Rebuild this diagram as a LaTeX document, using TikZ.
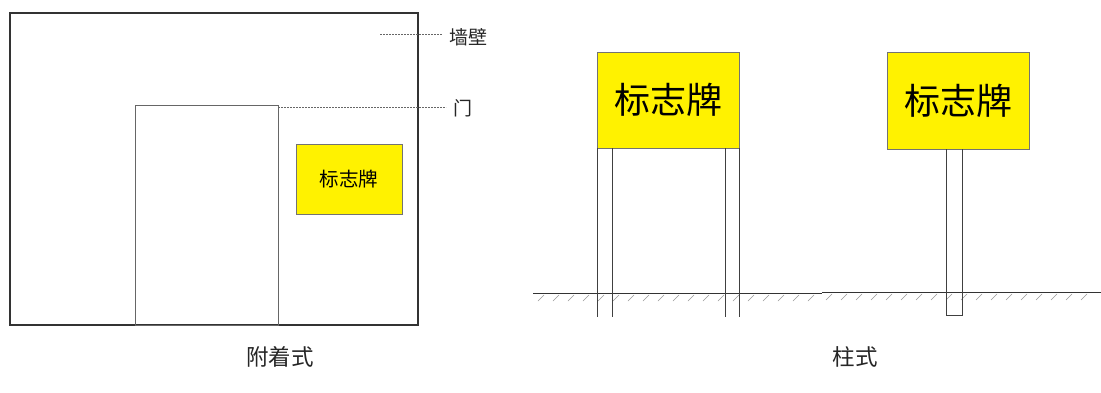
\documentclass[tikz,border=0pt]{standalone}
\usepackage{fontspec}
\setmainfont{Noto Sans CJK SC}
\newfontfamily\cjk{Noto Sans CJK SC}
\begin{document}
\begin{tikzpicture}[x=1pt,y=-1pt,
  wallbox/.style={draw=black!80, line width=1.8pt, inner sep=0pt, outer sep=0pt},
  doorbox/.style={draw=black!60, line width=0.8pt, inner sep=0pt, outer sep=0pt},
  signbox/.style={draw=black!55, line width=1pt, fill=yellow, inner sep=0pt, outer sep=0pt},
  leader/.style={draw=black!60, line width=0.6pt, dash pattern=on 2pt off 1pt, shorten >=6pt},
  lbl/.style={font=\cjk\fontsize{19}{19}\selectfont, text=black!85, inner sep=1pt},
  captxt/.style={font=\cjk\fontsize{22.5}{22.5}\selectfont, text=black!85},
  postline/.style={draw=black!75, line width=0.8pt},
  groundline/.style={draw=black!80, line width=1pt},
  hatch/.style={draw=black!40, line width=0.6pt}]
\useasboundingbox[fill=white] (0,0) rectangle (1101,392);

% ---------- attached type ----------
\node[wallbox, minimum width=408pt, minimum height=312pt] (wall) at (214,169) {};
\node[doorbox, minimum width=143pt, minimum height=220pt] (door) at (206.5,215) {};
\node[signbox, minimum width=106pt, minimum height=70pt] (sign0) at (349,179)
  {\cjk\fontsize{19.5}{19.5}\selectfont\raisebox{-2pt}{标志牌}};
\node[lbl, anchor=west] (lblwall) at (448,37) {墙壁};
\node[lbl, anchor=west] (lbldoor) at (452,108) {门};
\coordinate (wallpt) at (380,34);
\draw[leader] (wallpt) -- (lblwall.west |- wallpt);
\draw[leader] ([yshift=-2pt]door.north east) -- ([yshift=-2pt]lbldoor.west |- door.north east);
\node[captxt] (cap1) at (280,357) {附着式};

% ---------- post type ----------
\node[signbox, minimum width=142pt, minimum height=96pt] (sign1) at (668,100)
  {\cjk\fontsize{36}{36}\selectfont\raisebox{-4pt}{标志牌}};
\node[signbox, minimum width=142pt, minimum height=97pt] (sign2) at (958,100.5)
  {\cjk\fontsize{36}{36}\selectfont\raisebox{-4pt}{标志牌}};

% ground
\coordinate (g1) at (533,293);
\coordinate (g2) at (822,293);
\coordinate (g3) at (822,292);
\coordinate (g4) at (1101,292);
\foreach \x in {540,555,...,815}{\draw[hatch] (\x+4,295) -- (\x-2,301);}
\foreach \x in {828,843,...,1095}{\draw[hatch] (\x+4,294) -- (\x-2,300);}
\draw[groundline] (g1) -- (g2);
\draw[groundline] (g3) -- (g4);

% posts of sign1
\draw[postline] (sign1.south west) -- ++(0,169);
\draw[postline] ([xshift=15pt]sign1.south west) -- ++(0,169);
\draw[postline] ([xshift=-14pt]sign1.south east) -- ++(0,169);
\draw[postline] (sign1.south east) -- ++(0,169);
% post of sign2
\draw[postline] ([xshift=-12pt]sign2.south) -- ++(0,166) -- ++(16,0) -- ++(0,-166);

\node[captxt] (cap2) at (855,357) {柱式};
\end{tikzpicture}
\end{document}
